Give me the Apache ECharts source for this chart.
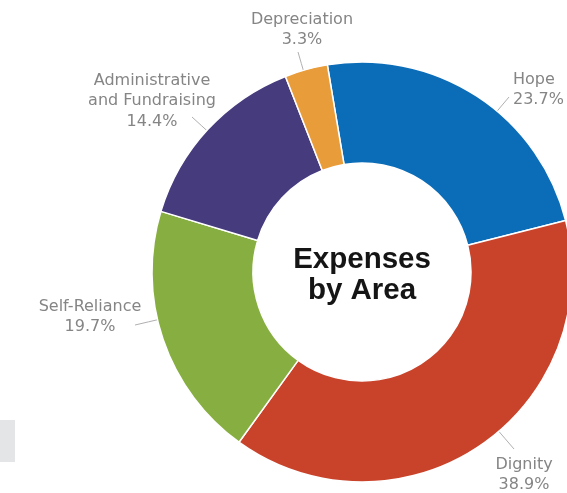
<!DOCTYPE html>
<html>
<head>
<meta charset="utf-8">
<script src="https://cdn.jsdelivr.net/npm/echarts@6/dist/echarts.min.js"></script>
<style>html,body{margin:0;padding:0;background:#fff;}#c{width:567px;height:493px;}</style>
</head>
<body>
<div id="c"></div>
<script>
const categories = ['Hope', 'Dignity', 'Self-Reliance', 'Administrative\nand Fundraising', 'Depreciation'];
const values = [23.7, 38.9, 19.7, 14.4, 3.3];
const colors = ['#0b6db8', '#c9432b', '#87ae40', '#453b7d', '#e99c3a'];
const centerTitle = 'Expenses\nby Area';

// label layout (annotation placement): anchor x, y, align, leader-line start near the label
const labelPos = [
  {x: 513, y: 90, align: 'left', line: [509, 97]},
  {x: 524, y: 475, align: 'center', line: [514, 449]},
  {x: 90, y: 317, align: 'center', line: [135, 325]},
  {x: 152, y: 101, align: 'center', line: [192, 117]},
  {x: 302, y: 30, align: 'center', line: [298, 52]}
];
const PIE_CENTER = [362, 272];
const PIE_RADIUS = [109, 210];

const chart = echarts.init(document.getElementById('c'), null, {renderer: 'canvas'});
chart.setOption({
  animation: false,
  backgroundColor: '#fff',
  graphic: [
    {type: 'rect', shape: {x: 0, y: 420, width: 15, height: 42}, style: {fill: '#e4e5e7'}},
    {type: 'text', x: 362, y: 275, z: 10,
     style: {text: centerTitle, align: 'center', verticalAlign: 'middle',
             font: 'bold 29.5px "Liberation Sans", Arial, sans-serif', fill: '#151515', lineHeight: 31}}
  ],
  series: [{
    type: 'pie',
    center: PIE_CENTER,
    radius: PIE_RADIUS,
    startAngle: 99.5,
    clockwise: true,
    avoidLabelOverlap: false,
    itemStyle: {borderColor: '#fff', borderWidth: 1.5},
    label: {
      show: true,
      position: 'outside',
      formatter: p => p.name + '\n' + p.value + '%',
      color: '#858585',
      fontFamily: '"DejaVu Sans", sans-serif',
      fontSize: 16,
      lineHeight: 20.5
    },
    labelLine: {show: true, length: 10, length2: 0, lineStyle: {color: '#b0b0b0', width: 1}},
    labelLayout: function (params) {
      const p = labelPos[params.dataIndex];
      const s = p.line;
      const dx = s[0] - PIE_CENTER[0], dy = s[1] - PIE_CENTER[1];
      const d = Math.sqrt(dx * dx + dy * dy);
      const r = PIE_RADIUS[1] - 5;
      const e = [PIE_CENTER[0] + dx / d * r, PIE_CENTER[1] + dy / d * r];
      const m = [(s[0] + e[0]) / 2, (s[1] + e[1]) / 2];
      return {x: p.x, y: p.y, align: p.align, verticalAlign: 'middle', labelLinePoints: [e, m, s]};
    },
    emphasis: {disabled: true},
    data: categories.map((c, i) => ({name: c, value: values[i], itemStyle: {color: colors[i]},
      label: {align: labelPos[i].align}}))
  }]
});
</script>
</body>
</html>
